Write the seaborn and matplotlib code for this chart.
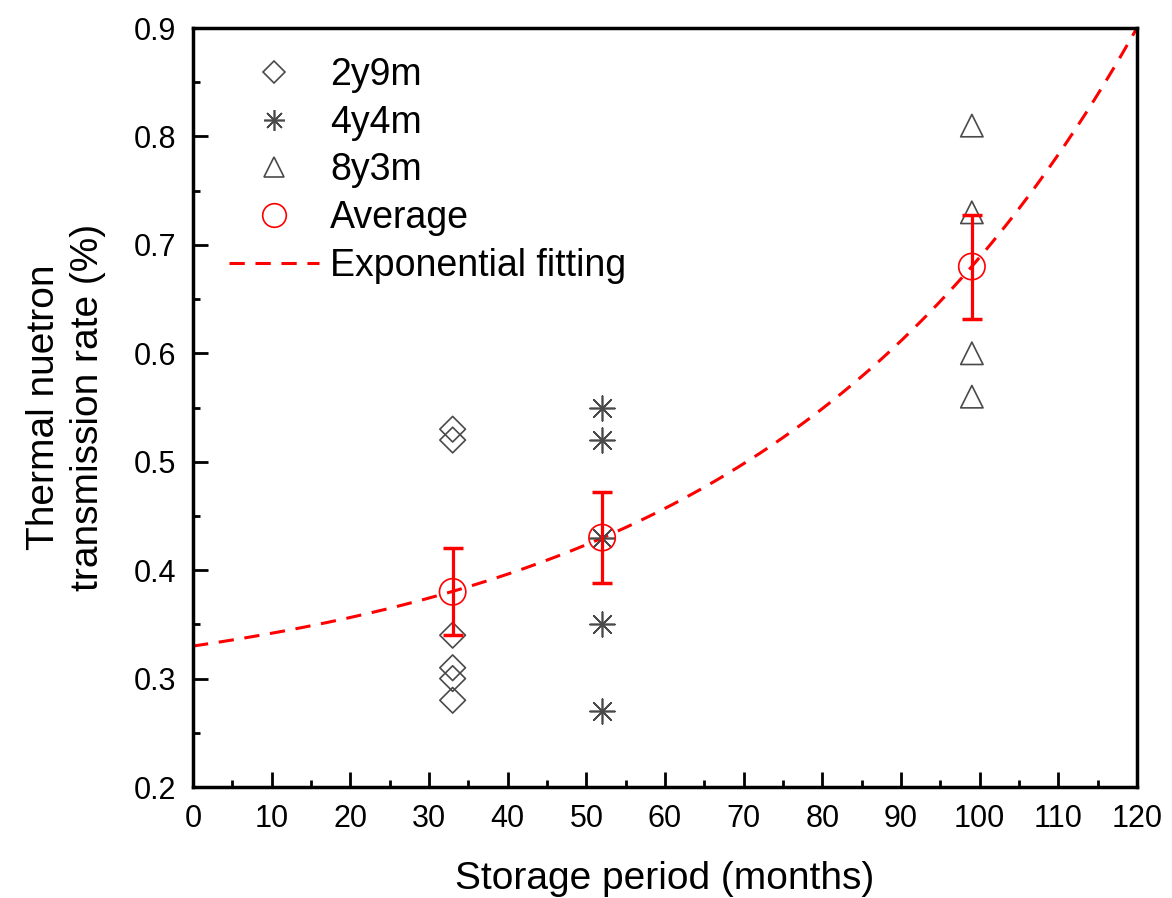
import numpy as np
import pandas as pd
import matplotlib
matplotlib.use("Agg")
import matplotlib.pyplot as plt
import seaborn as sns
from matplotlib.lines import Line2D
from matplotlib.ticker import MultipleLocator

# ---- data ----
groups = ["2y9m", "4y4m", "8y3m"]
x_2y9m = [33, 33, 33, 33, 33, 33]
y_2y9m = [0.53, 0.52, 0.34, 0.31, 0.30, 0.28]
x_4y4m = [52, 52, 52, 52, 52]
y_4y4m = [0.55, 0.52, 0.43, 0.35, 0.27]
x_8y3m = [99, 99, 99, 99]
y_8y3m = [0.81, 0.73, 0.60, 0.56]

avg_x = [33, 52, 99]
avg_y = [0.38, 0.43, 0.68]
avg_err = [0.040, 0.042, 0.048]

# exponential fit parameters: y = y0 + A*exp(x/t)
fit_y0 = 0.279
fit_A = 0.051
fit_t = 48.0

sns.set_theme(style="ticks")
plt.rcParams['font.family'] = ['Liberation Sans', 'DejaVu Sans']
plt.rcParams['text.color'] = 'black'
plt.rcParams['axes.labelcolor'] = 'black'
plt.rcParams['xtick.color'] = 'black'
plt.rcParams['ytick.color'] = 'black'

df = pd.DataFrame({
    "x": x_2y9m + x_4y4m + x_8y3m,
    "y": y_2y9m + y_4y4m + y_8y3m,
    "group": ["2y9m"] * len(x_2y9m) + ["4y4m"] * len(x_4y4m) + ["8y3m"] * len(x_8y3m),
})

fig = plt.figure(figsize=(11.72, 8.98), dpi=100)
ax = fig.add_axes([0.1647, 0.1236, 0.8055, 0.8452])

grey = "#4a4a4a"
star8 = (8, 2, 0)
markers = {"2y9m": "D", "4y4m": star8, "8y3m": "^"}
sizes = {"2y9m": 170, "4y4m": 320, "8y3m": 260}

for g in groups:
    sub = df[df["group"] == g]
    if g == "4y4m":
        sns.scatterplot(data=sub, x="x", y="y", ax=ax, marker=star8, s=sizes[g],
                        color=grey, linewidth=1.2, legend=False, zorder=3)
    else:
        sns.scatterplot(data=sub, x="x", y="y", ax=ax, marker=markers[g], s=sizes[g],
                        facecolor="none", edgecolor=grey, linewidth=1.2, legend=False, zorder=3)

# fit curve
fit_dash = (0, (5, 3.5))
xf = np.linspace(0, 120, 400)
yf = fit_y0 + fit_A * np.exp(xf / fit_t)
sns.lineplot(x=xf, y=yf, ax=ax, color="red", linestyle=fit_dash, linewidth=2.2,
             legend=False, zorder=2)

# average with error bars
ax.errorbar(avg_x, avg_y, yerr=avg_err, fmt="none", ecolor="red", elinewidth=2.3,
            capsize=7, capthick=2.5, zorder=4)
sns.scatterplot(x=avg_x, y=avg_y, ax=ax, marker="o", s=360, facecolor="none",
                edgecolor="red", linewidth=1.2, legend=False, zorder=5)

ax.set_xlim(0, 120)
ax.set_ylim(0.2, 0.9)
ax.xaxis.set_major_locator(MultipleLocator(10))
ax.xaxis.set_minor_locator(MultipleLocator(5))
ax.yaxis.set_minor_locator(MultipleLocator(0.05))
ax.set_yticks(np.arange(0.2, 0.91, 0.1))
ax.set_yticklabels([f"{v:.1f}" for v in np.arange(0.2, 0.91, 0.1)])
ax.tick_params(which="major", direction="in", length=11, width=2, labelsize=22,
               top=False, right=False, pad=12, colors="black")
ax.tick_params(which="minor", direction="in", length=5, width=2, top=False, right=False)
for sp in ax.spines.values():
    sp.set_linewidth(2.5)
    sp.set_color("black")

ax.set_xlabel("Storage period (months)", fontsize=28, labelpad=20)
ax.set_ylabel("Thermal nuetron\ntransmission rate (%)", fontsize=28, labelpad=20,
              multialignment="center", linespacing=1.28)

handles = [
    Line2D([], [], linestyle="none", marker="D", markersize=11, markerfacecolor="none",
           markeredgecolor=grey, markeredgewidth=1.2),
    Line2D([], [], linestyle="none", marker=star8, markersize=15, color=grey,
           markeredgewidth=1.2),
    Line2D([], [], linestyle="none", marker="^", markersize=14, markerfacecolor="none",
           markeredgecolor=grey, markeredgewidth=1.2),
    Line2D([], [], linestyle="none", marker="o", markersize=17, markerfacecolor="none",
           markeredgecolor="red", markeredgewidth=1.2),
    Line2D([], [], color="red", linestyle=fit_dash, linewidth=2.2),
]
labels = ["2y9m", "4y4m", "8y3m", "Average", "Exponential fitting"]
ax.legend(handles, labels, loc="upper left", frameon=False, fontsize=27,
          handlelength=2.4, handletextpad=0.3, labelspacing=0.31,
          bbox_to_anchor=(0.002, 1.006))

fig.savefig("out.png", dpi=100)
